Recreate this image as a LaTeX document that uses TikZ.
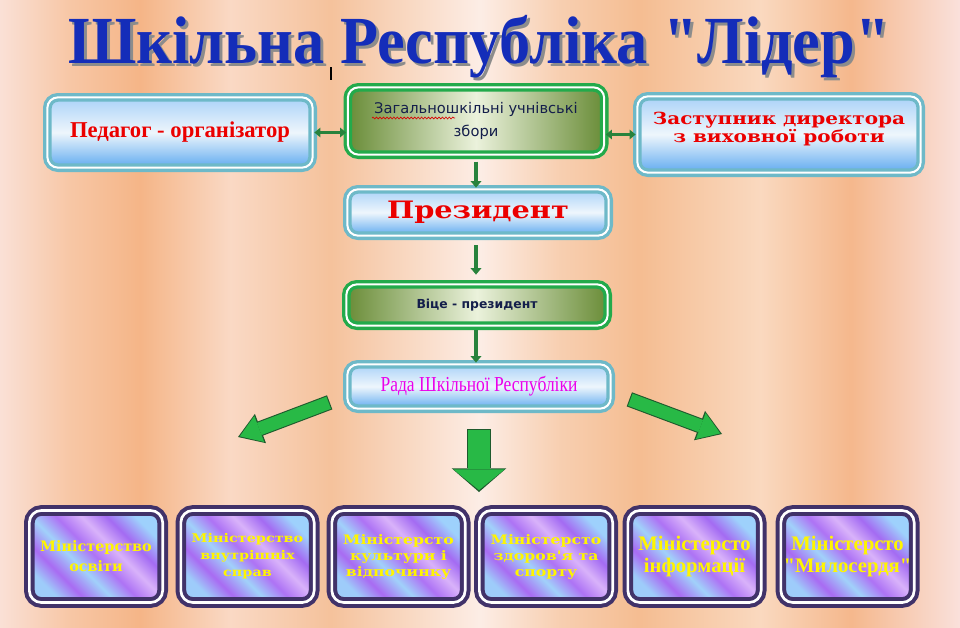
\documentclass[tikz,border=0pt]{standalone}
\usepackage{fontspec}
\setmainfont{Liberation Serif}
\newfontfamily\titlefont[FakeStretch=0.925]{Liberation Serif}
\newfontfamily\widefont[FakeStretch=1.2]{DejaVu Serif}
\newfontfamily\dvserif{DejaVu Serif}
\newfontfamily\plainsans{DejaVu Sans}
\newfontfamily\narrowfont[FakeStretch=0.82]{Liberation Serif}
\newfontfamily\minserif{Liberation Serif}
\usetikzlibrary{arrows.meta,decorations.pathmorphing}

\pgfdeclarehorizontalshading{bgbands}{100bp}{rgb(0bp)=(0.98,0.88,0.84); rgb(25bp)=(0.98,0.88,0.84);
  rgb(28.6bp)=(0.97,0.78,0.65); rgb(32.3bp)=(0.96,0.71,0.53); rgb(37bp)=(0.98,0.85,0.77);
  rgb(42.2bp)=(0.96,0.76,0.61); rgb(50bp)=(0.99,0.93,0.90); rgb(54.2bp)=(0.97,0.81,0.69);
  rgb(58.3bp)=(0.96,0.74,0.57); rgb(64.6bp)=(0.98,0.85,0.75); rgb(69.3bp)=(0.96,0.72,0.55);
  rgb(75bp)=(0.98,0.88,0.86); rgb(100bp)=(0.98,0.88,0.86)}
\pgfdeclarehorizontalshading{ministripe}{100bp}{rgb(0bp)=(0.62,0.80,0.98); rgb(25bp)=(0.62,0.80,0.98);
  rgb(33bp)=(0.66,0.42,0.95); rgb(42bp)=(0.63,0.82,0.98); rgb(50bp)=(0.68,0.45,0.96);
  rgb(58bp)=(0.85,0.70,0.98); rgb(66bp)=(0.64,0.42,0.95); rgb(75bp)=(0.62,0.82,0.99);
  rgb(100bp)=(0.62,0.82,0.99)}

\newcommand\minA{\dvserif\bfseries\fontsize{10.8}{15}\selectfont}
\newcommand\minB{\widefont\bfseries\fontsize{9}{12.8}\selectfont}
\newcommand\minC{\widefont\bfseries\fontsize{9.8}{12}\selectfont}
\newcommand\minD{\minserif\bfseries\fontsize{15.5}{16}\selectfont}

\begin{document}
\begin{tikzpicture}[x=0.75pt,y=-0.75pt,
    box/.style={rounded corners=8pt, line width=2.5pt, double=white, double distance=1.5pt, align=center, inner sep=2pt},
    bluebox/.style={box, draw=boxteal, top color=skyA, bottom color=skyC, middle color=skyB},
    greenbox/.style={box, draw=boxgreen, left color=oliveA, right color=oliveA, middle color=oliveB},
    ministry/.style={rounded corners=9pt, line width=3pt, double=white, double distance=2pt, draw=minframe,
      shade, shading=ministripe, shading angle=45, minimum width=100pt, minimum height=69pt,
      align=center, text=minyellow, inner sep=1pt},
    stepdown/.style={draw=arrowmid, line width=2.4pt, -{Triangle[length=5pt,width=8pt]}},
    twoway/.style={draw=arrowmid, line width=1.8pt, {Triangle[length=4.5pt,width=7pt]}-{Triangle[length=4.5pt,width=7pt]}},
    blockout/.style n args={3}{draw=arrowdark, line width=#1, -{Triangle[length=#2,width=#3,line width=0pt]}},
    blockin/.style n args={3}{draw=arrowgreen, line width=#1, -{Triangle[length=#2,width=#3,line width=0pt]},
      shorten >=1.4pt, shorten <=0.8pt},
  ]
    \definecolor{boxteal}{RGB}{110,185,200}
    \definecolor{skyA}{RGB}{170,210,248}
    \definecolor{skyB}{RGB}{238,246,252}
    \definecolor{skyC}{RGB}{95,170,240}
    \definecolor{boxgreen}{RGB}{35,170,75}
    \definecolor{oliveA}{RGB}{105,140,55}
    \definecolor{oliveB}{RGB}{235,242,220}
    \definecolor{minframe}{RGB}{65,50,105}
    \definecolor{minyellow}{RGB}{255,245,0}
    \definecolor{arrowdark}{RGB}{30,90,45}
    \definecolor{arrowmid}{RGB}{40,130,60}
    \definecolor{arrowgreen}{RGB}{40,185,70}
    \definecolor{titleblue}{RGB}{20,45,185}
    \definecolor{textnavy}{RGB}{20,30,75}
    \definecolor{radapink}{RGB}{235,0,235}
    \definecolor{redtext}{RGB}{235,0,0}

    \useasboundingbox (0,0) rectangle (960,628);
    \shade[shading=bgbands] (0,0) rectangle (960,628);

    % title
    \node[font=\titlefont\bfseries\fontsize{50.5}{54}\selectfont, text=black!45, anchor=base] (titleshadow) at (482,66) {Шкільна Республіка "Лідер"};
    \node[font=\titlefont\bfseries\fontsize{50.5}{54}\selectfont, text=titleblue, anchor=base] (title) at (479,63) {Шкільна Республіка "Лідер"};
    \draw[black, line width=0.8pt] (331,67) -- (331,80);

    % top row
    \node[bluebox, minimum width=199pt, minimum height=52.75pt, text=redtext,
      font=\bfseries\fontsize{17}{19}\selectfont] (ped) at (180,132.5) {Педагог - організатор};
    \node[greenbox, minimum width=192.25pt, minimum height=50.5pt, text=textnavy,
      font=\plainsans\fontsize{11}{17}\selectfont] (zbory) at (476,121) {Загальношкільні учнівські\\збори};
    \node[bluebox, minimum width=212.5pt, minimum height=57.25pt, text=redtext, text depth=11pt,
      font=\widefont\bfseries\fontsize{12.5}{14}\selectfont] (zast) at (779,134.5) {Заступник директора\\з виховної роботи};
    \draw[red!85!black, line width=0.5pt, decorate, decoration={snake, amplitude=0.7pt, segment length=2.6pt}]
      (372,118) -- (455,118);

    % central column
    \node[bluebox, minimum width=196pt, minimum height=34.75pt, text=redtext,
      font=\widefont\bfseries\fontsize{18}{20}\selectfont] (prez) at (478,212.5) {Президент};
    \node[greenbox, minimum width=196pt, minimum height=31pt, text=textnavy,
      font=\plainsans\bfseries\fontsize{9.3}{11}\selectfont] (vice) at (477,305) {Віце - президент};
    \node[bluebox, minimum width=197.5pt, minimum height=33.25pt, text=radapink,
      font=\narrowfont\fontsize{16}{18}\selectfont] (rada) at (479,386.5) {Рада Шкільної Республіки};

    \draw[twoway] (ped.east) -- (ped.east -| zbory.west);
    \draw[twoway] (zast.west -| zbory.east) -- (zast.west);
    \draw[stepdown, shorten <=4pt] (zbory.south) -- (zbory.south |- prez.north);
    \draw[stepdown, shorten <=6pt, shorten >=6pt] (zbory.south |- prez.south) -- (zbory.south |- vice.north);
    \draw[stepdown, shorten <=2pt] (zbory.south |- vice.south) -- (zbory.south |- rada.north);

    % ministries
    \foreach \x/\nm/\fnt/\txt in {96/m1/\minA/{Міністерство\\освіти},
        247.5/m2/\minB/{Міністерство\\внутрішніх\\справ},
        398.5/m3/\minC/{Міністерсто\\культури і\\відпочинку},
        546/m4/\minC/{Міністерсто\\здоров'я та\\спорту},
        694.5/m5/\minD/{Міністерсто\\інформації},
        847.5/m6/\minD/{Міністерсто\\"Милосердя"}} {
        \node[ministry, font=\fnt] (\nm) at (\x,556.5) {\txt};
    }

    % big arrows
    \coordinate (leftfoot) at ([shift={(-16,-8)}]rada.south west);
    \coordinate (rightfoot) at ([shift={(17,-11)}]rada.south east);
    \coordinate (downfoot) at ([shift={(0,19)}]rada.south);
    \coordinate (lefttip) at (238,437);
    \coordinate (righttip) at (722,434);
    \coordinate (downtip) at (479,492);
    \draw[blockout={11.3pt}{18pt}{23.5pt}] (leftfoot) -- (lefttip);
    \draw[blockin={9.7pt}{15.6pt}{20.8pt}] (leftfoot) -- (lefttip);
    \draw[blockout={11.3pt}{18pt}{23.5pt}] (rightfoot) -- (righttip);
    \draw[blockin={9.7pt}{15.6pt}{20.8pt}] (rightfoot) -- (righttip);
    \draw[blockout={17.5pt}{17.8pt}{41pt}] (downfoot) -- (downtip);
    \draw[blockin={15.9pt}{15.6pt}{38.5pt}] (downfoot) -- (downtip);
\end{tikzpicture}
\end{document}
